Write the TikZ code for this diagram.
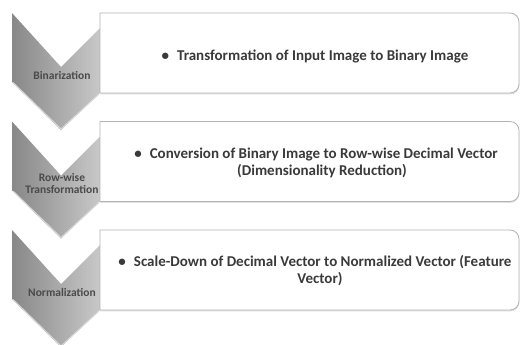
\documentclass[tikz,border=0pt]{standalone}
\usepackage{fontspec}
\setmainfont{Carlito}
\usetikzlibrary{shadows}
\definecolor{txt}{HTML}{3A3A3A}
\definecolor{chtxt}{HTML}{4A4A4A}
\definecolor{chdark}{HTML}{888888}
\definecolor{chlight}{HTML}{C8C8C8}
\definecolor{boxline}{HTML}{B4B4B4}
\tikzset{
  chevron/.style={left color=chdark, right color=chlight, draw=none},
  bevel/.style={draw=white!70!gray, line width=1pt},
  listbox/.style={fill=white, draw=boxline, line width=0.8pt,
    drop shadow={shadow xshift=0.4pt, shadow yshift=-1.4pt, opacity=0.25}},
  chlabel/.style={font=\fontsize{11.5}{12.5}\selectfont\bfseries, text=chtxt, align=center, inner sep=0pt},
  bodytext/.style={font=\fontsize{15}{17}\selectfont\bfseries, text=txt, inner sep=0pt, anchor=base}
}
\newcommand{\bul}{\textbullet\hspace{8pt}}
\begin{document}
\begin{tikzpicture}[x=1pt,y=-1pt]
\useasboundingbox (0,0) rectangle (522,345);
\fill[white] (0,0) rectangle (522,345);
\foreach \o in {0,108.5,217} {
  \path[chevron] (12,13+\o) -- (61,67+\o) -- (100,28+\o) -- (100,93+\o) -- (61,130+\o) -- (12,82+\o) -- cycle;
  \draw[bevel] (13,82.5+\o) -- (61,129+\o) -- (99,94+\o);
}
\node[chlabel] (c1) at (62,75) {Binarization};
\node[chlabel, font=\fontsize{11.5}{12}\selectfont\bfseries] (c2) at (62,183.5) {Row-wise\\Transformation};
\node[chlabel] (c3) at (62,292) {Normalization};
\foreach \o in {0,108.5,217} {
  \path[listbox] (100,13+\o) -- (480,13+\o) [rounded corners=9pt] -- (519,13+\o) -- (519,93+\o) -- (480,93+\o) [sharp corners] -- (100,93+\o) -- cycle;
}
\node[bodytext] (t1) at (315,60) {\bul Transformation of Input Image to Binary Image};
\node[bodytext] (t2a) at (316,158) {\bul Conversion of Binary Image to Row-wise Decimal Vector};
\node[bodytext] (t2b) at (322,175) {(Dimensionality Reduction)};
\node[bodytext] (t3a) at (315,266) {\bul Scale-Down of Decimal Vector to Normalized Vector (Feature};
\node[bodytext] (t3b) at (320,283) {Vector)};
\end{tikzpicture}
\end{document}
